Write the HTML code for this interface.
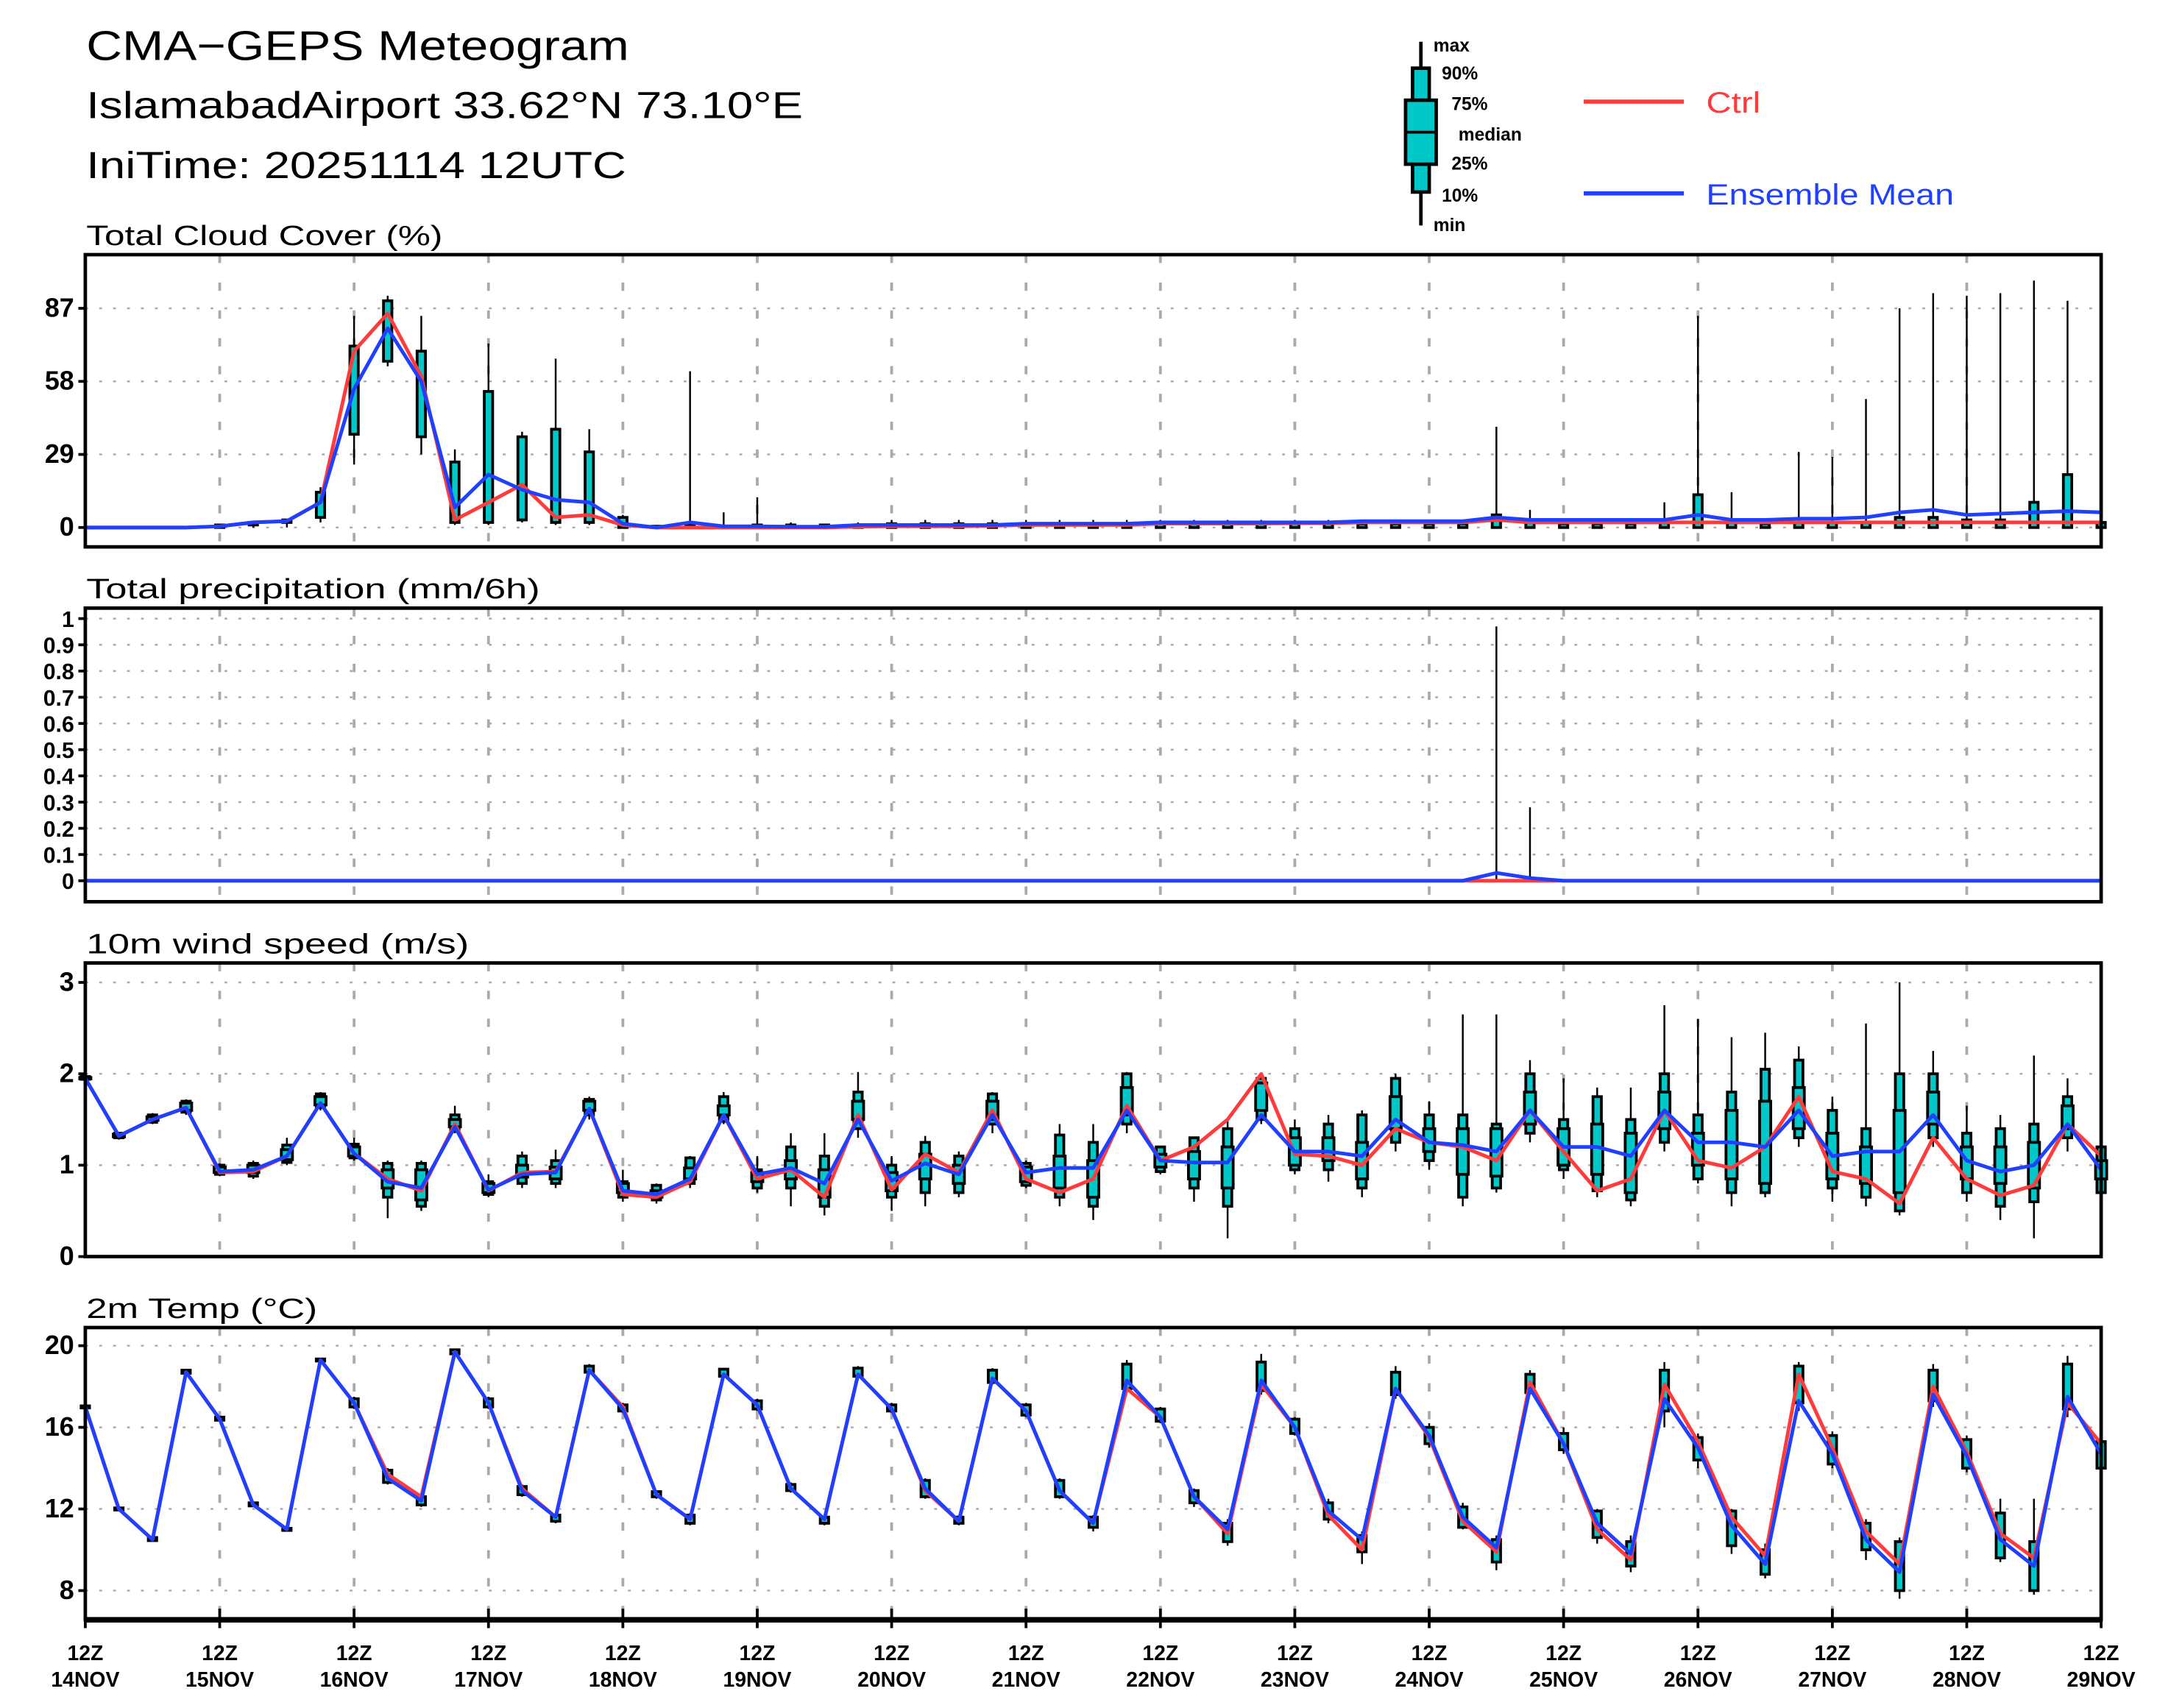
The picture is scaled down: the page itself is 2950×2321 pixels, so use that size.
<!DOCTYPE html>
<html><head><meta charset="utf-8">
<style>
html,body{margin:0;padding:0;background:#fff;}
svg{display:block;}
text{font-family:"Liberation Sans",sans-serif;}
</style></head>
<body>
<svg id="chart" width="2950" height="2321" viewBox="0 0 1560 1227.4" preserveAspectRatio="none" xmlns="http://www.w3.org/2000/svg">
<g>
<text x="62" y="43" font-size="30" fill="#000" textLength="390" lengthAdjust="spacingAndGlyphs">CMA−GEPS Meteogram</text>
<text x="62" y="85" font-size="27" fill="#000" textLength="515" lengthAdjust="spacingAndGlyphs">IslamabadAirport 33.62°N 73.10°E</text>
<text x="62" y="128" font-size="27" fill="#000" textLength="388" lengthAdjust="spacingAndGlyphs">IniTime: 20251114 12UTC</text>
</g>
<g>
<line x1="1021" y1="30" x2="1021" y2="162" stroke="#000" stroke-width="2.5"/>
<rect x="1015" y="49" width="12" height="89" fill="#00c8c8" stroke="#000" stroke-width="2.5"/>
<rect x="1010" y="72" width="22" height="46" fill="#00c8c8" stroke="#000" stroke-width="2.5"/>
<line x1="1010" y1="95" x2="1032" y2="95" stroke="#000" stroke-width="2"/>
<g font-size="13" font-weight="bold" fill="#000">
<text x="1030" y="37">max</text><text x="1036" y="57">90%</text><text x="1043" y="79">75%</text>
<text x="1048" y="101">median</text><text x="1043" y="122">25%</text><text x="1036" y="145">10%</text><text x="1030" y="166">min</text>
</g>
<line x1="1138" y1="73" x2="1210" y2="73" stroke="#ff3b3b" stroke-width="3"/>
<text x="1226" y="81" font-size="21" fill="#ff3b3b" textLength="39" lengthAdjust="spacingAndGlyphs">Ctrl</text>
<line x1="1138" y1="139" x2="1210" y2="139" stroke="#2040ff" stroke-width="3"/>
<text x="1226" y="147" font-size="21" fill="#2040ff" textLength="178" lengthAdjust="spacingAndGlyphs">Ensemble Mean</text>
</g>
<g id="panels"></g>
</svg>
<script>
// ---- data (6-hourly, 61 steps from 12Z 14NOV) ----
const dayLabels = ["14NOV","15NOV","16NOV","17NOV","18NOV","19NOV","20NOV","21NOV","22NOV","23NOV","24NOV","25NOV","26NOV","27NOV","28NOV","29NOV"];

const cloudMean = [0,0,0,0,0.5,2,2.5,10,55,79,58,8,21,15,11,10,1.5,0,2,0.5,0.5,0.3,0.3,1,1,1,1,1,1.5,1.5,1.5,1.5,2,2,2,2,2,2,2.5,2.5,2.5,2.5,4,3,3,3,3,3,5,3,3,3.5,3.5,4,6,7,5,5.5,6,6.5,6];
const cloudCtrl = [0,0,0,0,0.5,2,2.5,10,70,85,60,3,10,17,4,5,1,0,0,0,0,0,0,0.3,0.5,0.5,0.5,0.7,1,1,1,1,1.5,1.5,1.5,1.5,1.7,1.7,2,2,2,2,3,2,2,2,2,2,2,2,2,2,2,2,2,2,2,2,2,2,2];
const cloudMin = [0,0,0,0,0,0,0,2,25,64,29,1,1,2,1,1,0,0,0,0,0,0,0,0,0,0,0,0,0,0,0,0,0,0,0,0,0,0,0,0,0,0,0,0,0,0,0,0,0,0,0,0,0,0,0,0,0,0,0,0,0];
const cloudP10 = [0,0,0,0,0,1,2,4,37,66,36,2,2,3,2,2,0,0,0,0,0,0,0,0,0,0,0,0,0,0,0,0,0,0,0,0,0,0,0,0,0,0,0,0,0,0,0,0,0,0,0,0,0,0,0,0,0,0,0,0,0];
const cloudP90 = [0,0,0,0,1,2,3,14,72,90,70,26,54,36,39,30,4,0.5,1,0.5,1,1,1,1,1.5,1.5,1.5,1.5,1.5,1.5,1.5,1.5,1.5,1.5,1.5,1.5,1.5,1.5,1.5,1.5,1.5,1.5,5,2,1.5,1.5,1.5,2,13,2,1.5,2,2,2,4,4,3,3,10,21,2];
const cloudMax = [0,0,0,0,1,2,3,16,84,92,84,31,73,38,67,39,5,1,62,6,12,2,1,2,3,3,3,3,3,3,3,3,3,3,3,3,3,3,3,3,3,3,40,7,3,3,3,10,84,14,3,30,28,51,87,93,92,93,98,90,3];

const precMean = [0,0,0,0,0,0,0,0,0,0,0,0,0,0,0,0,0,0,0,0,0,0,0,0,0,0,0,0,0,0,0,0,0,0,0,0,0,0,0,0,0,0,0.03,0.01,0,0,0,0,0,0,0,0,0,0,0,0,0,0,0,0,0];
const precCtrl = [0,0,0,0,0,0,0,0,0,0,0,0,0,0,0,0,0,0,0,0,0,0,0,0,0,0,0,0,0,0,0,0,0,0,0,0,0,0,0,0,0,0,0,0,0,0,0,0,0,0,0,0,0,0,0,0,0,0,0,0,0];
const precMax = [0,0,0,0,0,0,0,0,0,0,0,0,0,0,0,0,0,0,0,0,0,0,0,0,0,0,0,0,0,0,0,0,0,0,0,0,0,0,0,0,0,0,0.97,0.28,0,0,0,0,0,0,0,0,0,0,0,0,0,0,0,0,0];

const windMean = [1.95,1.32,1.5,1.63,0.93,0.95,1.1,1.68,1.13,0.82,0.75,1.42,0.73,0.9,0.92,1.62,0.72,0.68,0.85,1.55,0.9,0.97,0.8,1.5,0.83,1.02,0.9,1.55,0.92,0.97,0.97,1.6,1.05,1.03,1.03,1.55,1.15,1.15,1.1,1.5,1.25,1.22,1.15,1.6,1.2,1.2,1.1,1.6,1.25,1.25,1.2,1.6,1.1,1.15,1.15,1.55,1.05,0.93,1.0,1.45,0.95];
const windCtrl = [1.95,1.32,1.5,1.63,0.92,0.93,1.1,1.68,1.13,0.85,0.72,1.45,0.72,0.92,0.93,1.62,0.68,0.65,0.82,1.55,0.85,0.95,0.65,1.55,0.73,1.12,0.92,1.6,0.85,0.7,0.85,1.65,1.05,1.2,1.5,2.0,1.12,1.1,1.0,1.4,1.25,1.2,1.05,1.6,1.15,0.72,0.85,1.6,1.05,0.97,1.2,1.75,0.93,0.85,0.58,1.3,0.85,0.67,0.78,1.45,1.1];
const windMin = [1.93,1.28,1.45,1.55,0.88,0.85,1.0,1.6,1.05,0.42,0.5,1.35,0.65,0.75,0.75,1.5,0.6,0.58,0.75,1.45,0.7,0.55,0.45,1.3,0.5,0.55,0.65,1.35,0.75,0.55,0.4,1.35,0.9,0.6,0.2,1.45,0.9,0.82,0.65,1.15,0.95,0.55,0.7,1.25,0.85,0.65,0.55,1.15,0.8,0.55,0.65,1.2,0.6,0.55,0.45,1.2,0.6,0.4,0.2,1.15,0.6];
const windP10 = [1.94,1.3,1.47,1.58,0.9,0.88,1.03,1.63,1.08,0.65,0.55,1.38,0.68,0.8,0.8,1.55,0.65,0.62,0.8,1.48,0.75,0.75,0.55,1.4,0.65,0.7,0.7,1.45,0.78,0.65,0.55,1.45,0.93,0.75,0.55,1.5,0.95,0.95,0.75,1.25,1.05,0.65,0.75,1.35,0.95,0.72,0.62,1.25,0.85,0.7,0.7,1.3,0.75,0.65,0.5,1.3,0.7,0.55,0.6,1.3,0.7];
const windP25 = [1.95,1.31,1.49,1.6,0.92,0.92,1.06,1.66,1.1,0.75,0.62,1.42,0.7,0.87,0.85,1.6,0.7,0.65,0.85,1.55,0.82,0.85,0.65,1.5,0.72,0.85,0.8,1.5,0.82,0.75,0.65,1.55,0.98,0.85,0.75,1.6,1.0,1.05,0.85,1.4,1.15,0.9,0.88,1.45,1.0,0.9,0.7,1.4,1.0,0.85,0.8,1.4,0.85,0.8,0.7,1.45,0.85,0.8,0.75,1.4,0.85];
const windP75 = [1.96,1.34,1.53,1.68,0.98,1.0,1.17,1.75,1.2,0.95,0.95,1.5,0.8,1.0,0.98,1.7,0.8,0.72,0.97,1.65,0.92,1.05,0.95,1.7,0.92,1.12,1.0,1.7,0.98,1.1,1.05,1.85,1.12,1.15,1.2,1.9,1.3,1.3,1.25,1.75,1.4,1.4,1.4,1.8,1.4,1.45,1.35,1.8,1.35,1.6,1.7,1.85,1.35,1.2,1.6,1.8,1.2,1.2,1.25,1.65,1.05];
const windP90 = [1.97,1.35,1.55,1.7,1.0,1.02,1.22,1.78,1.23,1.02,1.02,1.55,0.82,1.1,1.05,1.72,0.82,0.78,1.08,1.75,0.95,1.2,1.1,1.8,1.0,1.25,1.1,1.78,1.02,1.33,1.25,2.0,1.2,1.3,1.4,1.95,1.4,1.45,1.55,1.95,1.55,1.55,1.45,2.0,1.5,1.75,1.5,2.0,1.55,1.8,2.05,2.15,1.6,1.4,2.0,2.0,1.35,1.4,1.45,1.75,1.2];
const windMax = [1.98,1.36,1.57,1.72,1.02,1.05,1.3,1.8,1.3,1.05,1.05,1.65,0.9,1.15,1.17,1.75,0.95,0.8,1.1,1.8,1.1,1.35,1.35,2.02,1.1,1.32,1.15,1.8,1.05,1.45,1.45,2.02,1.2,1.3,1.5,2.0,1.5,1.55,1.6,2.0,1.7,2.65,2.65,2.15,1.95,1.85,1.85,2.75,2.6,2.4,2.45,2.3,1.75,2.55,3.0,2.25,1.65,1.55,2.2,1.95,1.2];

const tempMean = [17.0,12.0,10.5,18.7,16.4,12.2,11.0,19.3,17.2,13.5,12.4,19.7,17.2,12.9,11.6,18.8,16.9,12.7,11.5,18.6,17.1,13.0,11.5,18.6,16.9,13.0,11.4,18.4,16.8,12.9,11.3,18.3,16.5,12.6,11.0,18.3,16.0,11.9,10.5,17.9,15.6,11.6,10.1,17.9,15.2,11.3,9.8,17.4,15.0,11.2,9.3,17.3,14.7,10.5,8.9,17.6,14.6,10.5,9.2,17.5,14.7];
const tempCtrl = [17.0,12.0,10.5,18.7,16.4,12.2,11.0,19.3,17.2,13.7,12.6,19.7,17.2,13.0,11.6,18.8,17.0,12.7,11.5,18.6,17.1,13.0,11.5,18.6,16.9,12.9,11.4,18.4,16.8,12.9,11.3,17.9,16.5,12.6,10.8,18.1,16.0,11.7,10.0,17.9,15.5,11.4,9.9,18.2,15.2,11.0,9.5,18.1,15.3,11.6,9.7,18.6,15.0,10.9,9.3,18.0,14.8,10.8,9.6,17.2,15.2];
const tempMin = [16.9,11.9,10.4,18.6,16.3,12.1,10.9,19.2,16.9,13.2,12.1,19.5,16.9,12.6,11.3,18.6,16.7,12.5,11.2,18.4,16.8,12.8,11.2,18.4,16.7,12.5,11.2,18.1,16.5,12.5,10.9,17.8,16.2,12.1,10.2,17.6,15.6,11.3,9.3,17.4,15.0,11.0,9.0,17.6,14.7,10.3,8.9,16.0,14.0,9.8,8.6,16.8,14.0,9.5,7.6,17.0,13.8,9.4,7.8,16.5,13.8];
const tempP10 = [16.95,11.95,10.45,18.65,16.35,12.15,10.95,19.25,17.0,13.3,12.2,19.6,17.0,12.7,11.4,18.7,16.8,12.6,11.3,18.5,16.9,12.9,11.3,18.5,16.8,12.6,11.3,18.2,16.6,12.6,11.1,17.9,16.3,12.3,10.4,17.8,15.7,11.5,9.9,17.6,15.2,11.1,9.4,17.7,14.9,10.6,9.2,16.8,14.4,10.2,8.8,17.2,14.2,10.0,8.0,17.3,14.0,9.6,8.0,16.9,14.0];
const tempP90 = [17.05,12.05,10.6,18.8,16.5,12.3,11.05,19.35,17.4,13.9,12.6,19.8,17.4,13.1,11.7,19.0,17.1,12.85,11.7,18.85,17.3,13.2,11.6,18.9,17.1,13.4,11.6,18.8,17.1,13.4,11.6,19.1,16.9,12.9,11.3,19.2,16.4,12.3,10.7,18.7,16.0,12.1,10.5,18.6,15.7,11.9,10.4,18.8,15.5,11.9,10.0,19.0,15.6,11.3,10.4,18.8,15.4,11.8,10.4,19.1,15.3];
const tempMax = [17.1,12.1,10.65,18.85,16.55,12.35,11.1,19.4,17.5,14.0,12.8,19.85,17.5,13.2,11.8,19.1,17.2,12.9,11.8,18.9,17.4,13.3,11.7,19.0,17.2,13.5,11.7,18.9,17.2,13.5,11.7,19.3,17.0,13.0,11.5,19.6,16.5,12.5,10.9,19.0,16.2,12.3,10.7,18.8,16.0,12.0,10.7,19.2,15.7,12.0,10.3,19.2,15.8,11.5,10.6,19.1,15.6,12.5,12.5,19.5,15.5];

// ---- layout ----
const X0 = 61.3, X1 = 1509.8, NSTEP = 60;
const xAt = i => X0 + (X1 - X0) * i / NSTEP;
const NS = "http://www.w3.org/2000/svg";
const root = document.getElementById('panels');
function mk(tag, attrs, parent){ const e=document.createElementNS(NS,tag); for(const k in attrs) e.setAttribute(k,attrs[k]); (parent||root).appendChild(e); return e; }

const panels = [
 {name:"cloud", title:"Total Cloud Cover (%)", tlen:256, top:183, bot:393, vmin:-7.7, vmax:108.3, ticks:[0,29,58,87], tickLabels:["0","29","58","87"], fs:19,
  mean:cloudMean, ctrl:cloudCtrl, min:cloudMin, p10:cloudP10, p90:cloudP90, max:cloudMax},
 {name:"precip", title:"Total precipitation (mm/6h)", tlen:326, top:437, bot:648, vmin:-0.08, vmax:1.04, ticks:[0,0.1,0.2,0.3,0.4,0.5,0.6,0.7,0.8,0.9,1], tickLabels:["0","0.1","0.2","0.3","0.4","0.5","0.6","0.7","0.8","0.9","1"], fs:16,
  mean:precMean, ctrl:precCtrl, min:precCtrl, p10:precCtrl, p90:precCtrl, max:precMax},
 {name:"wind", title:"10m wind speed (m/s)", tlen:275, top:692, bot:903, vmin:0, vmax:3.213, ticks:[0,1,2,3], tickLabels:["0","1","2","3"], fs:19,
  mean:windMean, ctrl:windCtrl, min:windMin, p10:windP10, p25:windP25, p75:windP75, p90:windP90, max:windMax},
 {name:"temp", title:"2m Temp (°C)", tlen:166, top:954, bot:1164, vmin:6.57, vmax:20.89, ticks:[8,12,16,20], tickLabels:["8","12","16","20"], fs:19,
  mean:tempMean, ctrl:tempCtrl, min:tempMin, p10:tempP10, p90:tempP90, max:tempMax}
];

panels.forEach((p, pi) => {
  const g = mk('g', {});
  
  
  const yAt = v => p.bot - (v - p.vmin) / (p.vmax - p.vmin) * (p.bot - p.top);
  const t = mk('text', {x:62, y:p.top-7, 'font-size':20, fill:'#000', textLength:p.tlen, lengthAdjust:'spacingAndGlyphs'}, g);
  t.textContent = p.title;
  
  
  p.ticks.forEach((v, k) => {
    const y = yAt(v);
    const gl = mk('line', {x1:X0, x2:X1, y1:y, y2:y, stroke:'#aaa', 'stroke-width':1.3, 'stroke-dasharray':'2,8'}, g);
    
    
    mk('line', {x1:X0-5, x2:X0, y1:y, y2:y, stroke:'#000', 'stroke-width':2}, g);
    const tl = mk('text', {x:X0-8, y:y+6, 'font-size':p.fs, 'font-weight':'bold', 'text-anchor':'end', fill:'#000'}, g);
    tl.textContent = p.tickLabels[k];
    
    
  });
  for (let d = 1; d < dayLabels.length - 1; d++) {
    const x = X0 + (X1 - X0) * d / 15;
    const vl = mk('line', {x1:x, x2:x, y1:p.top, y2:p.bot, stroke:'#aaa', 'stroke-width':2, 'stroke-dasharray':'6,14'}, g);
    
    
  }
  for (let i = 0; i <= NSTEP; i++) {
    const x = xAt(i);
    if (p.max[i] - p.min[i] <= 0) continue;
    const bg = mk('g', {}, g);
    
    
    mk('line', {x1:x, x2:x, y1:yAt(p.max[i]), y2:yAt(p.min[i]), stroke:'#000', 'stroke-width':1.3}, bg);
    const y90 = yAt(p.p90[i]), y10 = yAt(p.p10[i]);
    if (y10 - y90 > 0.5) {
      mk('rect', {x:x-3, y:y90, width:6, height:y10-y90, fill:'#00c8c8', stroke:'#000', 'stroke-width':2}, bg);
    }
    if (p.p25) {
      const y75 = yAt(p.p75[i]), y25 = yAt(p.p25[i]);
      mk('rect', {x:x-4, y:y75, width:8, height:Math.max(1,y25-y75), fill:'#00c8c8', stroke:'#000', 'stroke-width':2}, bg);
    }
  }
  const mkPath = arr => arr.map((v,i)=>(i?'L':'M')+xAt(i).toFixed(1)+','+yAt(v).toFixed(1)).join('');
  const cl = mk('path', {d:mkPath(p.ctrl), fill:'none', stroke:'#ff3b3b', 'stroke-width':2.6, 'stroke-linejoin':'round'}, g);
  
  
  const ml = mk('path', {d:mkPath(p.mean), fill:'none', stroke:'#2040ff', 'stroke-width':2.6, 'stroke-linejoin':'round'}, g);
  
  
  const fr = mk('rect', {x:X0, y:p.top, width:X1-X0, height:p.bot-p.top, fill:'none', stroke:'#000', 'stroke-width':2.5}, g);
  
  
  if (pi === 3) {
    mk('line', {x1:X0, x2:X1, y1:p.bot, y2:p.bot, stroke:'#000', 'stroke-width':4}, g);
    dayLabels.forEach((lab, d) => {
      const x = X0 + (X1 - X0) * d / 15;
      mk('line', {x1:x, x2:x, y1:p.bot-8, y2:p.bot+6, stroke:'#000', 'stroke-width':2}, g);
      const a = mk('text', {x:x, y:1193, 'font-size':15, 'font-weight':'bold', 'text-anchor':'middle', fill:'#000'}, g);
      a.textContent = '12Z';
      
      
      const b = mk('text', {x:x, y:1212, 'font-size':15, 'font-weight':'bold', 'text-anchor':'middle', fill:'#000'}, g);
      b.textContent = lab;
      
      
    });
  }
});
</script>
</body></html>
